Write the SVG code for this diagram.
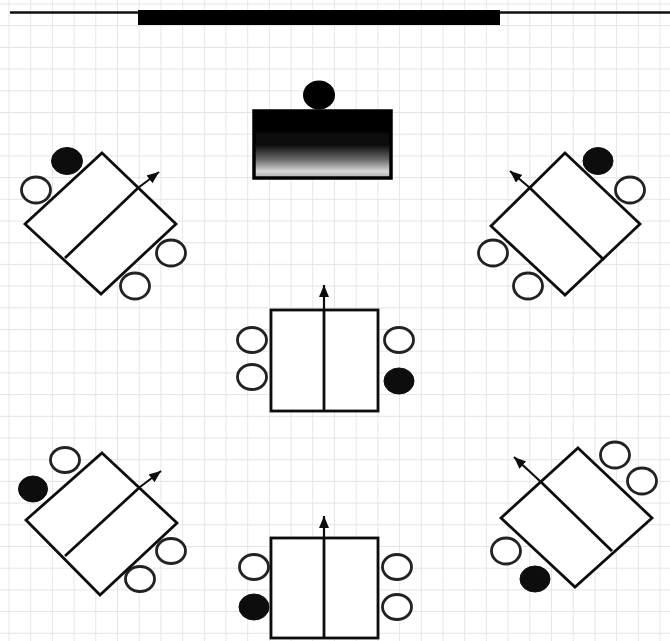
<svg xmlns="http://www.w3.org/2000/svg" width="670" height="641" viewBox="0 0 670 641">
<style>
.desk{fill:#fff;stroke:#111;stroke-width:2.8;stroke-linejoin:miter}
.div{fill:none;stroke:#111;stroke-width:2.8}
.w{fill:#fff;stroke:#222;stroke-width:2.8}
.b{fill:#0b0b0b;stroke:#0b0b0b;stroke-width:1}
.arr{fill:none;stroke:#111;stroke-width:2.2;marker-end:url(#ah)}
</style>
<defs>
<pattern id="grid" x="8.5" y="3.5" width="21.7" height="21.7" patternUnits="userSpaceOnUse">
<path d="M0 0V21.7M0 0H21.7" fill="none" stroke="#e4e4e4" stroke-width="1.8"/>
</pattern>
<marker id="ah" markerUnits="userSpaceOnUse" markerWidth="14" markerHeight="12" refX="12" refY="5" orient="auto">
<path d="M0 0L12 5L0 10Z" fill="#111"/>
</marker>
<linearGradient id="pod" x1="0" y1="0" x2="0" y2="1">
<stop offset="0" stop-color="#000"/>
<stop offset=".5" stop-color="#0a0a0a"/>
<stop offset=".72" stop-color="#666"/>
<stop offset=".9" stop-color="#d8d8d8"/>
<stop offset="1" stop-color="#aaa"/>
</linearGradient>
<filter id="soft" x="-5%" y="-5%" width="110%" height="110%"><feGaussianBlur stdDeviation="0.6"/></filter>
</defs>
<rect width="670" height="641" fill="#fff"/>
<rect width="670" height="641" fill="url(#grid)"/>
<g filter="url(#soft)">
<g id="front-wall">
<path d="M10 12.500H670" stroke="#111" stroke-width="2.400" fill="none"/>
<rect x="138" y="10" width="362" height="15" fill="#060606"/>
</g>
<g id="teacher">
<rect x="254" y="111" width="137" height="67" fill="url(#pod)" stroke="#050505" stroke-width="3.500"/>
<ellipse cx="319" cy="95" rx="16" ry="14.500" fill="#050505"/>
</g>
<g id="desk-top-left">
<ellipse class="b" cx="67" cy="161" rx="15.500" ry="13.500"/>
<ellipse class="w" cx="36" cy="190" rx="14.500" ry="13"/>
<ellipse class="w" cx="171" cy="253" rx="14.500" ry="13"/>
<ellipse class="w" cx="135" cy="286" rx="14.500" ry="13"/>
<path class="desk" d="M102 153L176 224L101 294L25 224Z"/>
<path class="div" d="M138 188L65 258"/>
</g>
<g id="desk-top-right">
<ellipse class="b" cx="598" cy="161" rx="15" ry="13.500"/>
<ellipse class="w" cx="630" cy="190" rx="14.500" ry="13"/>
<ellipse class="w" cx="493" cy="253" rx="14.500" ry="13"/>
<ellipse class="w" cx="528" cy="286" rx="14.500" ry="13"/>
<path class="desk" d="M565 153L640 224L565 295L491 226Z"/>
<path class="div" d="M530 188L604 260"/>
</g>
<g id="desk-center">
<ellipse class="w" cx="252" cy="340" rx="14.500" ry="12.500"/>
<ellipse class="w" cx="252" cy="377" rx="14.500" ry="12.500"/>
<ellipse class="w" cx="399" cy="340" rx="14.500" ry="12.500"/>
<ellipse class="b" cx="399" cy="381" rx="15" ry="13"/>
<rect class="desk" x="271" y="310" width="107" height="101"/>
<path class="div" d="M324 310V411"/>
</g>
<g id="desk-bottom-left">
<ellipse class="w" cx="65" cy="460" rx="14.500" ry="12.500"/>
<ellipse class="b" cx="33" cy="489" rx="14.500" ry="13"/>
<ellipse class="w" cx="171" cy="551" rx="14.500" ry="12.500"/>
<ellipse class="w" cx="140" cy="579" rx="14.500" ry="12.500"/>
<path class="desk" d="M102 453L177 523L100 595L26 520Z"/>
<path class="div" d="M140 487L65 556"/>
</g>
<g id="desk-bottom-right">
<ellipse class="w" cx="615" cy="455" rx="14.500" ry="13"/>
<ellipse class="w" cx="642" cy="481" rx="14.500" ry="13"/>
<ellipse class="w" cx="506" cy="551" rx="14.500" ry="13"/>
<ellipse class="b" cx="535" cy="579" rx="15" ry="13"/>
<path class="desk" d="M578 448L652 518L575 587L501 518Z"/>
<path class="div" d="M541 482L612 551"/>
</g>
<g id="desk-bottom-center">
<ellipse class="w" cx="254" cy="567" rx="14.500" ry="12.500"/>
<ellipse class="b" cx="254" cy="607" rx="15" ry="13"/>
<ellipse class="w" cx="397" cy="567" rx="14.500" ry="12.500"/>
<ellipse class="w" cx="397" cy="607" rx="14.500" ry="12.500"/>
<rect class="desk" x="271" y="538" width="107" height="100"/>
<path class="div" d="M324 538V638"/>
</g>
<g id="connectors">
<path class="arr" d="M138 188L159 172"/>
<path class="arr" d="M530 188L510 171"/>
<path class="arr" d="M324 310V285"/>
<path class="arr" d="M140 487L161 471"/>
<path class="arr" d="M541 482L514 457"/>
<path class="arr" d="M324 538V516"/>
</g>
</g>
</svg>
